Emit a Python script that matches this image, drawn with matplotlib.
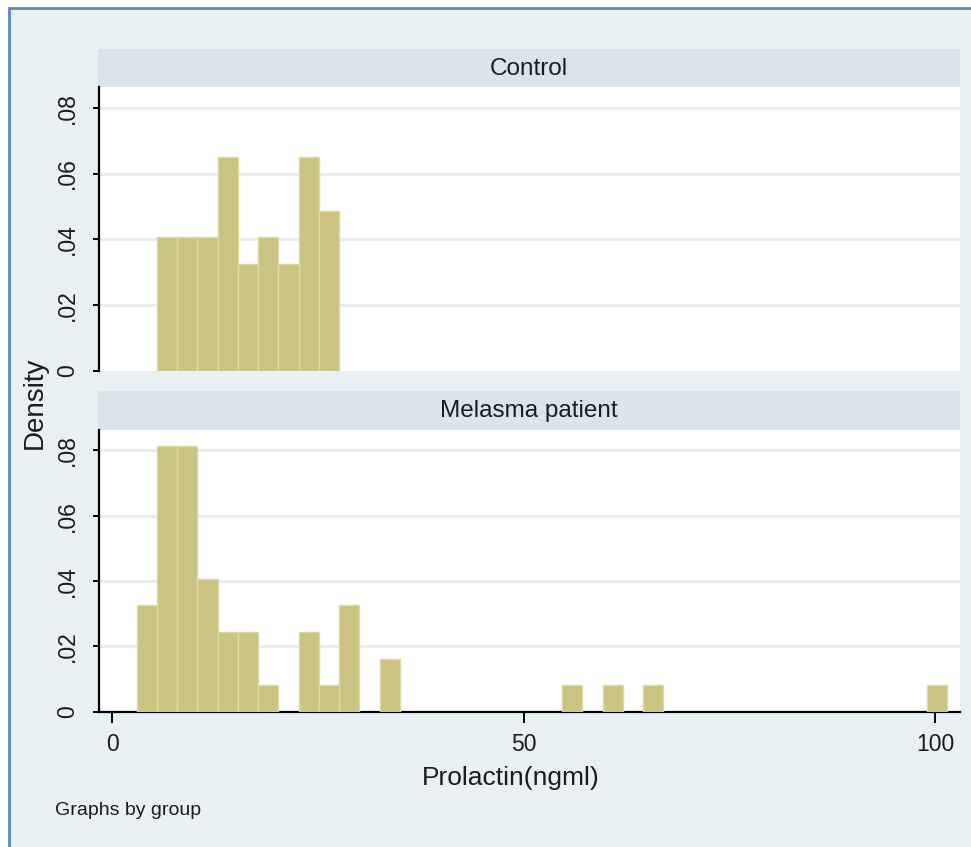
"""
Stata-style histogram of prolactin by group (Control / Melasma patient),
two stacked panels sharing the same 40 bins.
"""
import matplotlib
matplotlib.use("Agg")
import matplotlib.pyplot as plt
from matplotlib.patches import Rectangle
import numpy as np

plt.rcParams["font.family"] = ["Liberation Sans", "DejaVu Sans"]

# shared bins: start, width
BIN_START = 2.96
BIN_WIDTH = 2.461

GROUPS = ["Control", "Melasma patient"]
control_bins = [1, 2, 3, 4, 5, 6, 7, 8, 9]
control_counts = [5, 5, 5, 8, 4, 5, 4, 8, 6]
melasma_bins = [0, 1, 2, 3, 4, 5, 6, 8, 9, 10, 12, 21, 23, 25, 39]
melasma_counts = [4, 10, 10, 5, 3, 3, 1, 3, 1, 4, 2, 1, 1, 1, 1]

YTICKS = [0, 0.02, 0.04, 0.06, 0.08]
YTICK_LABELS = ["0", ".02", ".04", ".06", ".08"]
XTICKS = [0, 50, 100]
XTICK_LABELS = ["0", "50", "100"]

BG = "#E8F0F3"
STRIP = "#D9E5EB"
BAR = "#CAC381"
BAR_EDGE = "#DDD8A6"
GRID = "#E5EEF2"
BORDER = "#5A87C5"
TXT = "#1b1b22"

W, H = 971, 847
fig = plt.figure(figsize=(W / 100, H / 100), dpi=100, facecolor="white")
fig.patches.append(Rectangle((9 / W, -0.1), 1.2, 1.1 - 8 / H, transform=fig.transFigure,
                             facecolor=BG, edgecolor=BORDER, lw=2, zorder=-10))


def px(x0, y0, x1, y1):
    # pixel box (top-left origin) -> figure fraction [l, b, w, h]
    return [x0 / W, 1 - y1 / H, (x1 - x0) / W, (y1 - y0) / H]


panels = [
    (control_bins, control_counts, px(99, 87.3, 960, 371), px(98, 49.3, 960, 87.3)),
    (melasma_bins, melasma_counts, px(99, 430, 960, 711.7), px(98, 390.7, 960, 430)),
]

for i, (name, (bins, counts, box, strip_box)) in enumerate(zip(GROUPS, panels)):
    sax = fig.add_axes(strip_box)
    sax.set_facecolor(STRIP)
    sax.set_xticks([]); sax.set_yticks([])
    for s in sax.spines.values():
        s.set_visible(False)
    sax.text(0.5, 0.48, name, ha="center", va="center", fontsize=17.5, color=TXT,
             transform=sax.transAxes)

    ax = fig.add_axes(box)
    ax.set_facecolor("white")
    n = sum(counts)
    dens = np.array(counts) / (n * BIN_WIDTH)
    left = BIN_START + np.array(bins) * BIN_WIDTH
    ax.bar(left, dens, width=BIN_WIDTH, align="edge", color=BAR,
           edgecolor=BAR_EDGE, lw=1, zorder=3)
    ax.set_xlim(-1.62, 103.0)
    ax.set_ylim(0, 0.0862)
    for y in YTICKS[1:]:
        ax.axhline(y, color=GRID, lw=2, zorder=1)
    ax.set_yticks(YTICKS)
    ax.set_yticklabels(YTICK_LABELS, rotation=90, va="center", fontsize=16.5, color=TXT)
    ax.tick_params(axis="y", length=4.5, width=1.4, pad=10)
    for s in ("top", "right"):
        ax.spines[s].set_visible(False)
    ax.spines["left"].set_linewidth(1.6)
    if i == 0:
        ax.spines["bottom"].set_visible(False)
        ax.set_xticks([])
    else:
        ax.spines["bottom"].set_linewidth(1.6)
        ax.set_xticks(XTICKS)
        ax.set_xticklabels(XTICK_LABELS, fontsize=16.5, color=TXT)
        ax.tick_params(axis="x", length=8, width=1.4, pad=7)

fig.text(35 / W, 1 - 403 / H, "Density", rotation=90, ha="center", va="center",
         fontsize=20, color=TXT)
fig.text(511 / W, 1 - 778 / H, "Prolactin(ngml)", ha="center", va="center",
         fontsize=19, color=TXT)
fig.text(55 / W, 1 - 810 / H, "Graphs by group", ha="left", va="center",
         fontsize=14, color=TXT)

fig.savefig("out.png", dpi=100, facecolor=fig.get_facecolor())
